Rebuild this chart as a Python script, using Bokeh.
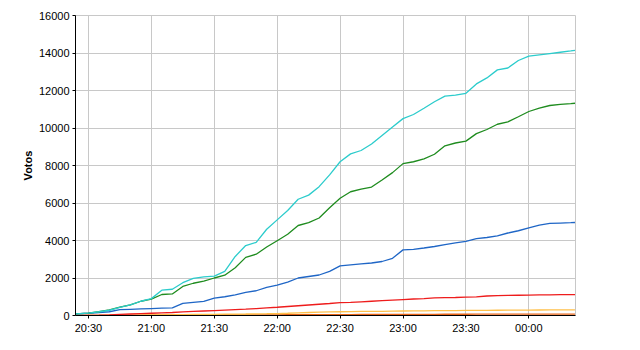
import pandas as pd
from bokeh.plotting import figure
from bokeh.models import Range1d, FixedTicker, CustomJSTickFormatter
from bokeh.embed import file_html
from bokeh.resources import INLINE

times = ["20:24", "20:30", "20:35", "20:40", "20:45", "20:50", "20:55",
         "21:00", "21:05", "21:10", "21:15", "21:20", "21:25", "21:30",
         "21:35", "21:40", "21:45", "21:50", "21:55", "22:00", "22:05",
         "22:10", "22:15", "22:20", "22:25", "22:30", "22:35", "22:40",
         "22:45", "22:50", "22:55", "23:00", "23:05", "23:10", "23:15",
         "23:20", "23:25", "23:30", "23:35", "23:40", "23:45", "23:50",
         "23:55", "00:00", "00:05", "00:10", "00:15", "00:20", "00:22"]

cyan = [90, 130, 200, 280, 430, 570, 760, 900, 1350, 1400, 1750, 1980, 2060,
        2100, 2350, 3150, 3730, 3900, 4600, 5100, 5600, 6200, 6420, 6870, 7500,
        8200, 8620, 8800, 9150, 9600, 10050, 10500, 10720, 11050, 11400, 11700,
        11750, 11850, 12350, 12670, 13100, 13200, 13600, 13830, 13900, 13970,
        14040, 14110, 14140]

green = [90, 130, 200, 300, 450, 570, 760, 870, 1120, 1150, 1550, 1720, 1830,
         2000, 2150, 2550, 3100, 3270, 3650, 3990, 4330, 4800, 4950, 5200, 5750,
         6250, 6600, 6740, 6850, 7230, 7620, 8100, 8200, 8350, 8600, 9050, 9200,
         9300, 9700, 9920, 10200, 10330, 10600, 10880, 11060, 11200, 11260,
         11300, 11320]

blue = [90, 120, 150, 200, 310, 330, 350, 370, 390, 410, 650, 700, 750, 930,
        1000, 1100, 1230, 1320, 1500, 1620, 1780, 2000, 2080, 2160, 2350, 2650,
        2700, 2750, 2800, 2880, 3050, 3500, 3530, 3600, 3680, 3780, 3870, 3950,
        4100, 4160, 4250, 4400, 4520, 4670, 4820, 4910, 4930, 4950, 4960]

red = [0, 10, 20, 35, 60, 80, 100, 120, 140, 160, 190, 215, 240, 265, 290, 315,
       340, 370, 405, 440, 480, 520, 560, 600, 640, 690, 700, 730, 760, 790,
       820, 850, 880, 900, 940, 950, 960, 975, 990, 1040, 1060, 1070, 1080,
       1090, 1100, 1105, 1110, 1115, 1115]

yellow = [0, 5, 10, 15, 20, 25, 30, 35, 40, 45, 50, 55, 60, 65, 70, 75, 80, 88,
          95, 105, 120, 140, 160, 175, 190, 200, 210, 215, 220, 225, 232, 240,
          245, 250, 255, 260, 265, 270, 272, 275, 280, 283, 287, 290, 293, 296,
          298, 300, 300]

orange = [0, 2, 4, 5, 7, 9, 11, 13, 15, 17, 19, 21, 23, 25, 27, 29, 31, 33, 35,
          37, 39, 41, 43, 46, 48, 50, 52, 54, 56, 58, 60, 62, 63, 64, 65, 66,
          67, 68, 69, 70, 71, 72, 73, 74, 75, 76, 77, 78, 78]

tick_labels = ["20:30", "21:00", "21:30", "22:00", "22:30", "23:00", "23:30", "00:00"]
y_ticks = [0, 2000, 4000, 6000, 8000, 10000, 12000, 14000, 16000]


def to_dt(hhmm):
    h, m = map(int, hhmm.split(":"))
    day = 2 if h < 12 else 1
    return pd.Timestamp(2024, 1, day, h, m)


xs = [to_dt(t) for t in times]
tick_ms = [to_dt(t).value / 1e6 for t in tick_labels]

p = figure(width=640, height=350, output_backend="svg", toolbar_location=None,
           x_axis_type="datetime",
           min_border_left=75, min_border_right=65, min_border_top=15,
           min_border_bottom=35)
p.x_range = Range1d(to_dt("20:24") - pd.Timedelta(seconds=10),
                    to_dt("00:22") + pd.Timedelta(seconds=15))
p.y_range = Range1d(0, 16000)

p.xaxis.ticker = FixedTicker(ticks=tick_ms)
p.xaxis.formatter = CustomJSTickFormatter(code="""
const d = new Date(tick);
const h = String(d.getUTCHours()).padStart(2, '0');
const m = String(d.getUTCMinutes()).padStart(2, '0');
return h + ':' + m;
""")
p.yaxis.ticker = FixedTicker(ticks=y_ticks)
p.yaxis.axis_label = "Votos"

for ax in (p.xaxis, p.yaxis):
    ax.axis_line_color = "black"
    ax.axis_line_width = 1
    ax.major_tick_line_color = "black"
    ax.major_tick_in = 0
    ax.major_tick_out = 3
    ax.minor_tick_line_color = None
    ax.major_label_text_font = "Liberation Sans"
    ax.major_label_text_font_size = "11px"
    ax.major_label_text_color = "black"
    ax.major_label_standoff = 3
p.yaxis.axis_label_text_font = "Liberation Sans"
p.yaxis.axis_label_text_font_size = "11px"
p.yaxis.axis_label_text_font_style = "bold"
p.yaxis.axis_label_text_color = "black"
p.yaxis.axis_label_standoff = 2

p.xgrid.grid_line_color = "#c8c8c8"
p.ygrid.grid_line_color = "#c8c8c8"
p.outline_line_color = "#c8c8c8"
p.background_fill_color = "white"
p.border_fill_color = "white"

lw = 1.3
p.line(xs, orange, line_color="#e8661a", line_width=lw)
p.line(xs, yellow, line_color="#ffc04a", line_width=lw)
p.line(xs, red, line_color="#ee1c1c", line_width=lw)
p.line(xs, blue, line_color="#1f66c6", line_width=lw)
p.line(xs, green, line_color="#1f8c1f", line_width=lw)
p.line(xs, cyan, line_color="#2ccccc", line_width=lw)

open("out.html", "w").write(file_html(p, INLINE))
